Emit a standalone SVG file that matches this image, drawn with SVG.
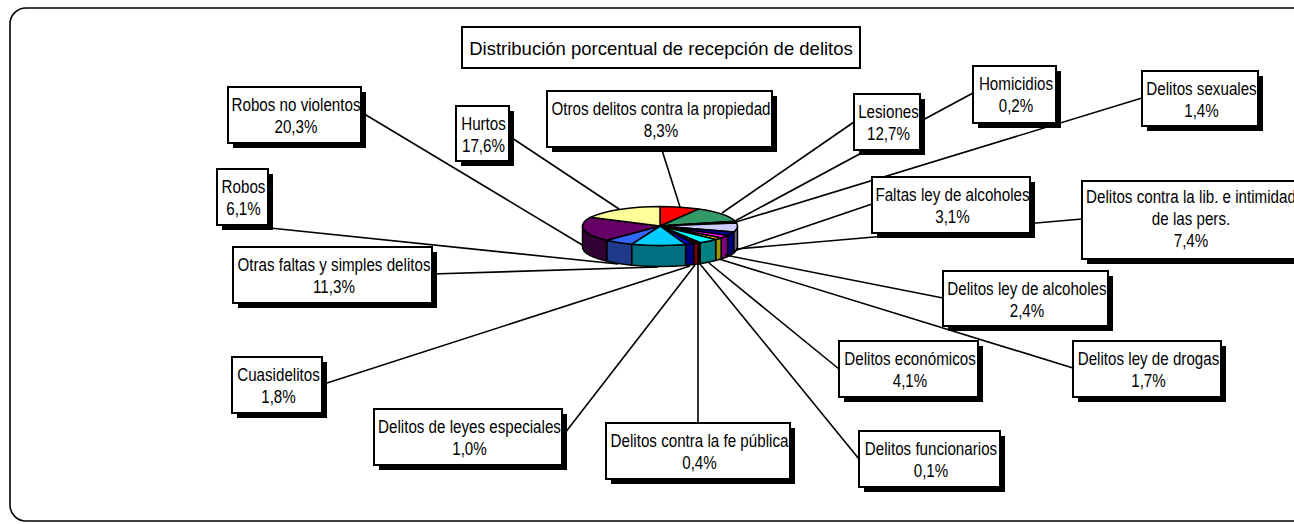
<svg xmlns="http://www.w3.org/2000/svg" width="1294" height="524" viewBox="0 0 1294 524">
<style>
.frame{fill:#fff;stroke:#000;stroke-width:1.6}
.bx{fill:#fff;stroke:#000;stroke-width:2}
.sh{fill:#000}
.lbl{font-family:"Liberation Sans",Arial,sans-serif;font-size:18.5px;text-anchor:middle;fill:#000}
.ttl{font-family:"Liberation Sans",Arial,sans-serif;font-size:18.5px;text-anchor:middle;fill:#000}
.ln{stroke:#000;stroke-width:1.6;fill:none}
.pie path{stroke:#000;stroke-width:1.5;stroke-linejoin:round}
</style>
<rect class="frame" x="10" y="8" width="1300" height="513" rx="16"/>

<g id="pie" class="pie">
  <!-- side walls -->
  <path fill="#666680" d="M737.5,226 A77.5,19.5 0 0 1 733.65,232.07 L733.65,253.07 A77.5,19.5 0 0 0 737.5,247 Z"/>
  <path fill="#000080" d="M733.65,232.07 A77.5,19.5 0 0 1 727.59,235.54 L727.59,256.54 A77.5,19.5 0 0 0 733.65,253.07 Z"/>
  <path fill="#800080" d="M727.59,235.54 A77.5,19.5 0 0 1 721.12,237.99 L721.12,258.99 A77.5,19.5 0 0 0 727.59,256.54 Z"/>
  <path fill="#999900" d="M721.12,237.99 A77.5,19.5 0 0 1 715.68,239.56 L715.68,260.56 A77.5,19.5 0 0 0 721.12,258.99 Z"/>
  <path fill="#008080" d="M715.68,239.56 A77.5,19.5 0 0 1 700.10,242.69 L700.10,263.69 A77.5,19.5 0 0 0 715.68,260.56 Z"/>
  <path fill="#400040" d="M700.10,242.69 A77.5,19.5 0 0 1 699.68,242.75 L699.68,263.75 A77.5,19.5 0 0 0 700.10,263.69 Z"/>
  <path fill="#660000" d="M699.68,242.75 A77.5,19.5 0 0 1 698.01,242.99 L698.01,263.99 A77.5,19.5 0 0 0 699.68,263.75 Z"/>
  <path fill="#800000" d="M698.01,242.99 A77.5,19.5 0 0 1 693.68,243.56 L693.68,264.56 A77.5,19.5 0 0 0 698.01,263.99 Z"/>
  <path fill="#000080" d="M693.68,243.56 A77.5,19.5 0 0 1 685.58,244.41 L685.58,265.41 A77.5,19.5 0 0 0 693.68,264.56 Z"/>
  <path fill="#007080" d="M685.58,244.41 A77.5,19.5 0 0 1 631.66,244.15 L631.66,265.15 A77.5,19.5 0 0 0 685.58,265.41 Z"/>
  <path fill="#1F3A8A" d="M631.66,244.15 A77.5,19.5 0 0 1 606.72,240.16 L606.72,261.16 A77.5,19.5 0 0 0 631.66,265.15 Z"/>
  <path fill="#330033" d="M606.72,240.16 A77.5,19.5 0 0 1 582.5,226 L582.5,247 A77.5,19.5 0 0 0 606.72,261.16 Z"/>
  <!-- top faces -->
  <path fill="#FF0000" d="M660,226 L660,206.5 A77.5,19.5 0 0 1 698.64,209.10 Z"/>
  <path fill="#339966" d="M660,226 L698.64,209.10 A77.5,19.5 0 0 1 735.09,221.18 Z"/>
  <path fill="#993366" d="M660,226 L735.09,221.18 A77.5,19.5 0 0 1 735.33,221.41 Z"/>
  <path fill="#9999FF" d="M660,226 L735.33,221.41 A77.5,19.5 0 0 1 736.64,223.10 Z"/>
  <path fill="#CCCCFF" d="M660,226 L736.64,223.10 A77.5,19.5 0 0 1 733.65,232.07 Z"/>
  <path fill="#000099" d="M660,226 L733.65,232.07 A77.5,19.5 0 0 1 727.59,235.54 Z"/>
  <path fill="#FF00FF" d="M660,226 L727.59,235.54 A77.5,19.5 0 0 1 721.12,237.99 Z"/>
  <path fill="#FFFF00" d="M660,226 L721.12,237.99 A77.5,19.5 0 0 1 715.68,239.56 Z"/>
  <path fill="#00FFFF" d="M660,226 L715.68,239.56 A77.5,19.5 0 0 1 700.10,242.69 Z"/>
  <path fill="#800080" d="M660,226 L700.10,242.69 A77.5,19.5 0 0 1 699.68,242.75 Z"/>
  <path fill="#993333" d="M660,226 L699.68,242.75 A77.5,19.5 0 0 1 698.01,242.99 Z"/>
  <path fill="#990000" d="M660,226 L698.01,242.99 A77.5,19.5 0 0 1 693.68,243.56 Z"/>
  <path fill="#0000CC" d="M660,226 L693.68,243.56 A77.5,19.5 0 0 1 685.58,244.41 Z"/>
  <path fill="#00CCFF" d="M660,226 L685.58,244.41 A77.5,19.5 0 0 1 631.66,244.15 Z"/>
  <path fill="#3366FF" d="M660,226 L631.66,244.15 A77.5,19.5 0 0 1 606.72,240.16 Z"/>
  <path fill="#660066" d="M660,226 L606.72,240.16 A77.5,19.5 0 0 1 590.69,217.28 Z"/>
  <path fill="#FFFF99" d="M660,226 L590.69,217.28 A77.5,19.5 0 0 1 660,206.5 Z"/>
</g>

<g id="connectors" class="ln">
  <line x1="361" y1="112" x2="584" y2="246"/>
  <line x1="509" y1="136" x2="619" y2="209"/>
  <line x1="661" y1="147" x2="680" y2="207"/>
  <line x1="854" y1="122" x2="722" y2="213"/>
  <line x1="973" y1="93" x2="735" y2="221"/>
  <line x1="1142" y1="98" x2="736" y2="222"/>
  <line x1="1082" y1="219" x2="736" y2="249"/>
  <line x1="872" y1="204" x2="731" y2="252"/>
  <line x1="943" y1="298" x2="725" y2="255"/>
  <line x1="1073" y1="368" x2="719" y2="259"/>
  <line x1="839" y1="369" x2="709" y2="263"/>
  <line x1="859" y1="459" x2="700" y2="264"/>
  <line x1="698" y1="423" x2="698" y2="264"/>
  <line x1="565" y1="433" x2="695" y2="265"/>
  <line x1="327" y1="383" x2="690" y2="266"/>
  <line x1="432" y1="274" x2="658" y2="267"/>
  <line x1="270" y1="228" x2="618" y2="264"/>
</g>

<g id="title">
  <rect class="bx" x="462" y="27" width="398" height="41"/>
  <text class="ttl" x="661" y="55">Distribución porcentual de recepción de delitos</text>
</g>

<g id="n-robos-no-violentos">
  <rect class="sh" x="233" y="92" width="133" height="56"/>
  <rect class="bx" x="228" y="87" width="133" height="56"/>
  <g transform="translate(296,0) scale(0.82,1)"><text class="lbl" y="111.5">Robos no violentos</text><text class="lbl" y="133.5">20,3%</text></g>
</g>
<g id="n-hurtos">
  <rect class="sh" x="461" y="111" width="53" height="55"/>
  <rect class="bx" x="456" y="106" width="53" height="55"/>
  <g transform="translate(483.5,0) scale(0.82,1)"><text class="lbl" y="130.5">Hurtos</text><text class="lbl" y="152.5">17,6%</text></g>
</g>
<g id="n-otros-propiedad">
  <rect class="sh" x="552" y="96" width="225" height="56"/>
  <rect class="bx" x="547" y="91" width="225" height="56"/>
  <g transform="translate(661,0) scale(0.82,1)"><text class="lbl" y="115.5">Otros delitos contra la propiedad</text><text class="lbl" y="137.5">8,3%</text></g>
</g>
<g id="n-lesiones">
  <rect class="sh" x="859" y="99" width="66" height="56"/>
  <rect class="bx" x="854" y="94" width="66" height="56"/>
  <g transform="translate(888.5,0) scale(0.82,1)"><text class="lbl" y="118.5">Lesiones</text><text class="lbl" y="140.5">12,7%</text></g>
</g>
<g id="n-homicidios">
  <rect class="sh" x="978" y="71" width="83" height="57"/>
  <rect class="bx" x="973" y="66" width="83" height="57"/>
  <g transform="translate(1016,0) scale(0.82,1)"><text class="lbl" y="90.5">Homicidios</text><text class="lbl" y="112.5">0,2%</text></g>
</g>
<g id="n-delitos-sexuales">
  <rect class="sh" x="1147" y="76" width="116" height="55"/>
  <rect class="bx" x="1142" y="71" width="116" height="55"/>
  <g transform="translate(1201.5,0) scale(0.82,1)"><text class="lbl" y="95.5">Delitos sexuales</text><text class="lbl" y="117.5">1,4%</text></g>
</g>
<g id="n-faltas-ley-alcoholes">
  <rect class="sh" x="877" y="182" width="158" height="56"/>
  <rect class="bx" x="872" y="177" width="158" height="56"/>
  <g transform="translate(952.5,0) scale(0.82,1)"><text class="lbl" y="201.5">Faltas ley de alcoholes</text><text class="lbl" y="223.5">3,1%</text></g>
</g>
<g id="n-delitos-libertad">
  <rect class="sh" x="1087" y="186" width="218" height="78"/>
  <rect class="bx" x="1082" y="181" width="218" height="78"/>
  <g transform="translate(1191,0) scale(0.82,1)"><text class="lbl" y="203">Delitos contra la lib. e intimidad</text><text class="lbl" y="225">de las pers.</text><text class="lbl" y="247">7,4%</text></g>
</g>
<g id="n-robos">
  <rect class="sh" x="222" y="174" width="51" height="56"/>
  <rect class="bx" x="217" y="169" width="51" height="56"/>
  <g transform="translate(243.5,0) scale(0.82,1)"><text class="lbl" y="193.5">Robos</text><text class="lbl" y="215.5">6,1%</text></g>
</g>
<g id="n-otras-faltas">
  <rect class="sh" x="238" y="252" width="199" height="56"/>
  <rect class="bx" x="233" y="247" width="199" height="56"/>
  <g transform="translate(334,0) scale(0.82,1)"><text class="lbl" y="271.5">Otras faltas y simples delitos</text><text class="lbl" y="293.5">11,3%</text></g>
</g>
<g id="n-delitos-ley-alcoholes">
  <rect class="sh" x="948" y="276" width="165" height="55"/>
  <rect class="bx" x="943" y="271" width="165" height="55"/>
  <g transform="translate(1027,0) scale(0.82,1)"><text class="lbl" y="295.5">Delitos ley de alcoholes</text><text class="lbl" y="317.5">2,4%</text></g>
</g>
<g id="n-cuasidelitos">
  <rect class="sh" x="237" y="362" width="90" height="56"/>
  <rect class="bx" x="232" y="357" width="90" height="56"/>
  <g transform="translate(278.5,0) scale(0.82,1)"><text class="lbl" y="381.5">Cuasidelitos</text><text class="lbl" y="403.5">1,8%</text></g>
</g>
<g id="n-delitos-economicos">
  <rect class="sh" x="844" y="346" width="139" height="56"/>
  <rect class="bx" x="839" y="341" width="139" height="56"/>
  <g transform="translate(910,0) scale(0.82,1)"><text class="lbl" y="365.5">Delitos económicos</text><text class="lbl" y="387.5">4,1%</text></g>
</g>
<g id="n-delitos-ley-drogas">
  <rect class="sh" x="1078" y="346" width="148" height="56"/>
  <rect class="bx" x="1073" y="341" width="148" height="56"/>
  <g transform="translate(1148.5,0) scale(0.82,1)"><text class="lbl" y="365.5">Delitos ley de drogas</text><text class="lbl" y="387.5">1,7%</text></g>
</g>
<g id="n-leyes-especiales">
  <rect class="sh" x="379" y="414" width="188" height="56"/>
  <rect class="bx" x="374" y="409" width="188" height="56"/>
  <g transform="translate(469.5,0) scale(0.82,1)"><text class="lbl" y="433.5">Delitos de leyes especiales</text><text class="lbl" y="455.5">1,0%</text></g>
</g>
<g id="n-fe-publica">
  <rect class="sh" x="611" y="428" width="184" height="56"/>
  <rect class="bx" x="606" y="423" width="184" height="56"/>
  <g transform="translate(699.5,0) scale(0.82,1)"><text class="lbl" y="447.5">Delitos contra la fe pública</text><text class="lbl" y="469.5">0,4%</text></g>
</g>
<g id="n-delitos-funcionarios">
  <rect class="sh" x="864" y="436" width="141" height="56"/>
  <rect class="bx" x="859" y="431" width="141" height="56"/>
  <g transform="translate(931,0) scale(0.82,1)"><text class="lbl" y="455.5">Delitos funcionarios</text><text class="lbl" y="477.5">0,1%</text></g>
</g>
</svg>
